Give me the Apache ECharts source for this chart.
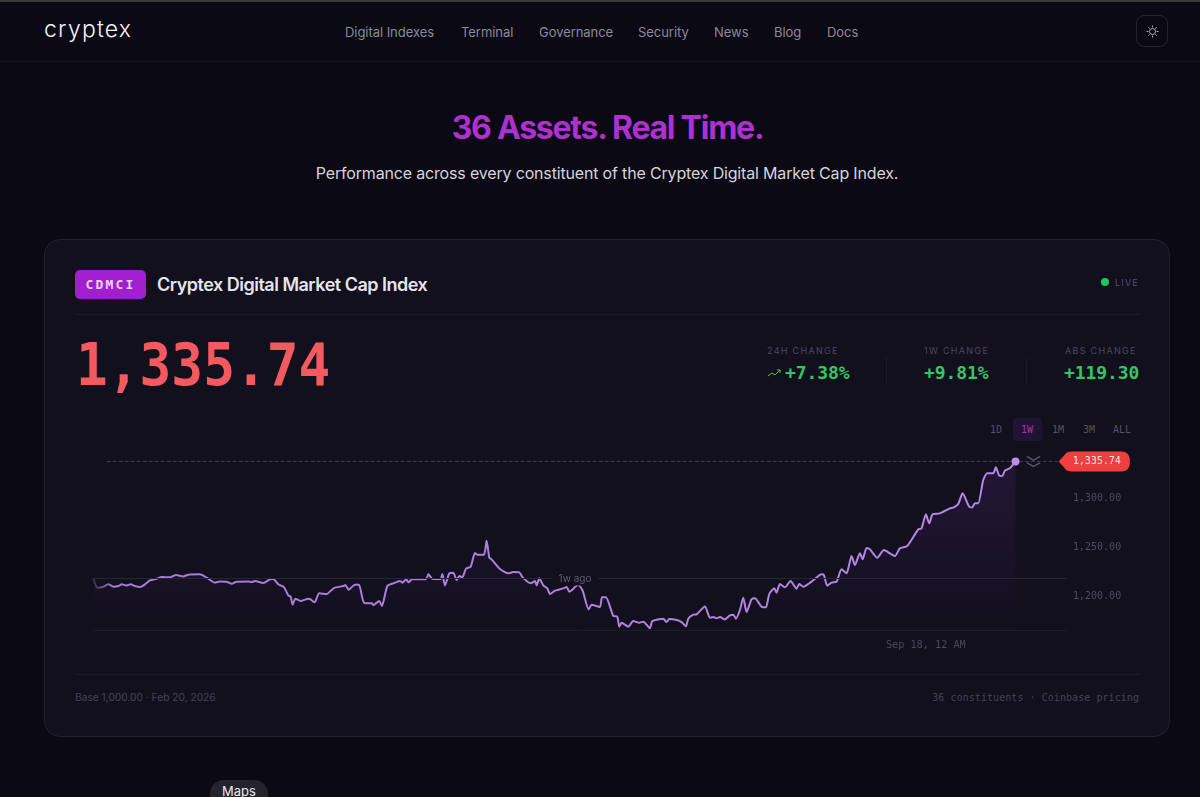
<!DOCTYPE html>
<html>
<head>
<meta charset="utf-8">
<title>Cryptex Digital Market Cap Index</title>
<script src="https://cdn.jsdelivr.net/npm/echarts@6/dist/echarts.min.js"></script>
<style>
  html, body {margin: 0; padding: 0; width: 1200px; height: 797px; overflow: hidden; background: #0a0914;}
  body {position: relative; font-family: Inter, sans-serif;}
  .abs {position: absolute; white-space: nowrap;}
  .mono {font-family: "DejaVu Sans Mono", monospace;}
  .card {left: 44px; top: 239px; width: 1124px; height: 496px; background: #12101d; border: 1px solid #232130; border-radius: 16px;}
  .rule {height: 1px; background: #1c1a29;}
  .nav {top: 24px; font-size: 13px; letter-spacing: -.05px; color: #8b8a9c; line-height: 16px;}
  .stat-t {top: 345px; font-size: 9px; letter-spacing: 1.3px; color: #4b4860; line-height: 11px;}
  .stat-v {top: 362px; font-size: 18px; font-weight: bold; letter-spacing: -.1px; color: #34c565; line-height: 22px;}
  .range {top: 423px; font-size: 10px; color: #54516a; line-height: 13px;}
  #main {position: absolute; left: 0; top: 0; width: 1200px; height: 797px;}
</style>
</head>
<body>
<div class="abs" style="left:0;top:0;width:1200px;height:2px;background:#3a3a3c"></div>
<div class="abs rule" style="left:0;top:61px;width:1200px;background:#141320"></div>
<div class="abs" style="left:44px;top:14px;font:300 23px/30px Inter,sans-serif;letter-spacing:1.2px;color:#f2f2f5">cryptex</div>
<div class="abs nav" style="left:345px">Digital Indexes</div>
<div class="abs nav" style="left:461px">Terminal</div>
<div class="abs nav" style="left:539px">Governance</div>
<div class="abs nav" style="left:638px">Security</div>
<div class="abs nav" style="left:714px">News</div>
<div class="abs nav" style="left:774px">Blog</div>
<div class="abs nav" style="left:827px">Docs</div>
<div class="abs" style="left:1136px;top:15px;width:32px;height:32px;border:1px solid #262433;border-radius:8px;box-sizing:border-box">
  <svg width="30" height="30" viewBox="0 0 30 30" fill="none" stroke="#a9a8b5" stroke-width="1"><circle cx="15.5" cy="15.5" r="3"/><path d="M15.5 9.5v2M15.5 19.5v2M9.5 15.5h2M19.5 15.5h2M11.3 11.3l1.4 1.4M18.3 18.3l1.4 1.4M11.3 19.7l1.4-1.4M18.3 12.7l1.4-1.4"/></svg>
</div>

<div class="abs" style="left:0;width:1215px;top:107px;text-align:center;font:bold 32px/42px Inter,sans-serif;letter-spacing:-1.25px;color:#b02fd0">36 Assets. Real Time.</div>
<div class="abs" style="left:0;width:1214px;top:162px;text-align:center;font:400 16px/22px Inter,sans-serif;letter-spacing:-.17px;color:#d5d4dc">Performance across every constituent of the Cryptex Digital Market Cap Index.</div>

<div class="abs card"></div>
<div class="abs mono" style="left:75px;top:270px;width:71px;height:29px;background:#a21fd0;border-radius:5px;text-align:center;font-size:13px;font-weight:bold;line-height:29px;letter-spacing:2.2px;color:#eed3f7">CDMCI</div>
<div class="abs" style="left:157px;top:272px;font:600 18px/25px Inter,sans-serif;letter-spacing:-.5px;color:#e6e4ef">Cryptex Digital Market Cap Index</div>
<div class="abs" style="left:1101px;top:278px;width:8px;height:8px;border-radius:50%;background:#22c55e"></div>
<div class="abs" style="left:1115px;top:277px;font-size:9px;line-height:11px;letter-spacing:1.2px;color:#55526a">LIVE</div>
<div class="abs rule" style="left:75px;top:314px;width:1065px"></div>

<div class="abs mono" style="left:76px;top:331px;font-size:52.8px;font-weight:bold;line-height:68px;color:#f25a5f;transform:scaleY(1.1);transform-origin:0 50%">1,335.74</div>

<div class="abs stat-t" style="left:767px">24H CHANGE</div>
<div class="abs stat-t" style="left:924px">1W CHANGE</div>
<div class="abs stat-t" style="left:1065px">ABS CHANGE</div>
<svg class="abs" style="left:767px;top:368px" width="15" height="11" viewBox="0 0 15 11" fill="none" stroke="#34c565" stroke-width="1"><path d="M1 8l4-3 3 2 5-5M10 2h3v3"/></svg>
<div class="abs stat-v mono" style="left:785px">+7.38%</div>
<div class="abs stat-v mono" style="left:924px">+9.81%</div>
<div class="abs stat-v mono" style="left:1064px">+119.30</div>
<div class="abs" style="left:886px;top:358px;width:1px;height:26px;background:#1d1b2a"></div>
<div class="abs" style="left:1026px;top:358px;width:1px;height:26px;background:#1d1b2a"></div>

<div class="abs" style="left:1013px;top:418px;width:29px;height:23px;background:#211433;border-radius:4px"></div>
<div class="abs range mono" style="left:990px">1D</div>
<div class="abs range mono" style="left:1021px;color:#a52fc9">1W</div>
<div class="abs range mono" style="left:1052px">1M</div>
<div class="abs range mono" style="left:1083px">3M</div>
<div class="abs range mono" style="left:1113px">ALL</div>

<div class="abs rule" style="left:75px;top:674px;width:1065px"></div>
<div class="abs" style="left:75px;top:691px;font-size:10.2px;line-height:13px;color:#454259">Base 1,000.00 · Feb 20, 2026</div>
<div class="abs mono" style="right:61px;top:691px;font-size:10px;line-height:13px;letter-spacing:.06px;color:#454259">36 constituents · Coinbase pricing</div>

<div class="abs" style="left:210px;top:780px;width:58px;height:34px;border-radius:14px;background:#25242e;text-align:center;font-size:13px;line-height:23px;color:#e8e8ec">Maps</div>

<div id="main"></div>
<script>
  var hours = [
    0.06, 0.79, 1.88, 2.79, 3.70, 4.61, 5.22, 6.13, 6.86, 7.64, 8.55, 9.46, 10.37, 11.59, 12.50, 14.01, 15.11, 16.44, 17.35, 19.47,
    20.69, 22.20, 23.12, 24.33, 25.24, 26.15, 28.27, 28.88, 29.49, 31.00, 32.20, 32.82, 33.73, 34.76, 35.55, 35.98, 36.34, 36.83, 37.80, 39.19,
    39.62, 40.34, 41.19, 42.53, 43.86, 45.56, 45.93, 46.53, 47.69, 48.41, 49.32, 50.72, 51.02, 52.11, 52.60, 53.57, 54.66,
    55.88, 56.37, 56.97, 57.46, 58.06, 60.61, 61.04, 61.83, 63.28, 63.59, 64.07, 64.86, 65.59, 66.19, 66.68, 67.23, 67.89, 68.74, 69.53, 69.96,
    71.17, 71.65, 72.14, 72.56, 74.08, 75.60, 76.51, 77.60, 78.21, 79.66, 80.45, 80.75, 81.24, 81.97, 82.70, 83.18, 84.09, 85.00, 85.61, 86.22,
    86.70, 88.34, 89.13, 90.22, 90.77, 92.28, 92.65, 93.37, 94.71, 95.44, 95.80, 96.23, 97.44, 98.35, 99.44, 100.17, 101.38, 101.81, 103.81, 104.42,
    104.90, 106.24, 107.15, 107.93, 108.36, 109.27, 109.88, 111.39, 112.30, 112.91, 113.52, 114.12, 115.03, 115.94, 116.55, 117.04,
    117.76, 118.37, 118.97, 119.88, 120.49, 121.70, 122.49, 123.10, 124.01, 124.43, 125.04, 125.95, 126.98, 128.07, 128.56, 129.29, 130.80, 132.62, 133.05, 133.66,
    134.44, 135.35, 136.26, 137.17, 138.08, 138.69, 139.60, 140.09, 140.81, 141.42, 142.76, 143.97, 145.97, 146.88, 148.22, 150.22, 150.83, 151.61, 152.22, 152.83,
    154.16, 155.98, 156.59, 157.50, 158.29, 159.50, 160.05, 160.53, 161.14, 162.05, 162.78, 163.87, 164.35, 164.96, 165.51, 165.99, 166.90, 167.93
  ];
  var prices = [
    1216.5, 1207.0, 1208.0, 1210.4, 1208.0, 1208.7, 1210.4, 1209.3, 1210.4, 1208.7, 1207.6, 1210.4, 1214.4, 1216.1, 1217.8, 1217.5, 1219.9, 1218.5, 1220.2, 1220.6,
    1217.2, 1212.1, 1213.4, 1213.1, 1211.0, 1213.1, 1213.4, 1212.7, 1213.8, 1211.7, 1215.5, 1215.8, 1210.4, 1207.6, 1199.1, 1197.8, 1189.6, 1195.7, 1193.4, 1195.7,
    1195.1, 1192.0, 1201.2, 1200.5, 1206.6, 1208.7, 1209.7, 1204.9, 1210.0, 1210.0, 1191.7, 1191.0, 1189.3, 1193.4, 1188.3, 1208.7, 1211.4,
    1213.8, 1212.1, 1215.5, 1212.4, 1215.5, 1215.5, 1220.6, 1215.8, 1215.8, 1220.9, 1209.3, 1221.6, 1222.3, 1214.8, 1218.9, 1217.5, 1226.3, 1228.4, 1242.3, 1240.6,
    1240.6, 1254.9, 1237.6, 1235.9, 1226.0, 1221.6, 1222.9, 1222.6, 1217.5, 1211.4, 1213.8, 1209.3, 1216.5, 1209.3, 1206.3, 1200.5, 1203.9, 1205.3, 1206.3, 1207.6,
    1202.9, 1210.0, 1203.9, 1184.9, 1189.6, 1187.2, 1197.1, 1197.1, 1178.1, 1177.4, 1167.2, 1171.2, 1167.2, 1172.9, 1171.2, 1172.3, 1165.5, 1172.9, 1175.3, 1171.9,
    1175.0, 1174.0, 1171.9, 1167.5, 1175.3, 1179.4, 1179.8, 1187.9, 1176.4, 1177.0, 1175.7, 1177.0, 1174.6, 1178.7, 1179.4, 1175.3,
    1184.2, 1196.8, 1182.2, 1195.1, 1196.1, 1187.6, 1186.9, 1200.5, 1206.3, 1201.9, 1210.7, 1207.3, 1213.8, 1206.0, 1210.7, 1208.0, 1213.1, 1220.6, 1219.9, 1209.0,
    1212.1, 1213.1, 1225.7, 1221.6, 1239.3, 1230.1, 1242.0, 1235.9, 1247.5, 1246.1, 1237.6, 1245.4, 1239.3, 1247.2, 1249.5, 1266.5, 1267.5, 1281.8, 1272.6, 1281.8,
    1282.8, 1287.9, 1288.6, 1292.4, 1303.2, 1289.6, 1288.9, 1293.0, 1293.0, 1316.8, 1323.7, 1323.7, 1329.8, 1321.3, 1320.9, 1326.4, 1328.8, 1335.74
  ];
  var baseline = 1216.44;
  var lastPrice = 1335.74;
  var priceTicks = [1200, 1250, 1300];
  var timeTicks = [151.6];
  var timeLabels = ['Sep 18, 12 AM'];

  var mono = '"DejaVu Sans Mono", monospace';
  var chart = echarts.init(document.getElementById('main'), null, {renderer: 'canvas'});
  window.onresize = chart.resize;
  chart.setOption({
    backgroundColor: 'transparent',
    animation: false,
    grid: {left: 93, right: 133, top: 450, height: 180},
    xAxis: {
      type: 'value', min: 0, max: 177.3,
      axisLine: {show: true, onZero: false, lineStyle: {color: '#1d1b2a'}},
      axisTick: {show: false},
      splitLine: {show: false},
      axisLabel: {
        customValues: timeTicks, margin: 10,
        color: '#4a4760', fontFamily: mono, fontSize: 10.2,
        formatter: function (v) { return timeLabels[timeTicks.indexOf(v)]; }
      }
    },
    yAxis: {
      type: 'value', position: 'right', min: 1163.8, max: 1347.45, scale: true,
      axisLine: {show: false},
      axisTick: {show: false},
      splitLine: {show: false},
      axisLabel: {
        customValues: priceTicks, margin: 6,
        formatter: function (v) { return '{t|' + v.toLocaleString('en-US', {minimumFractionDigits: 2}) + '}'; },
        rich: {t: {color: '#4d4a62', fontFamily: mono, fontSize: 10, padding: [3, 0, 0, 0]}}
      }
    },
    series: [{
      type: 'line',
      data: hours.map(function (h, i) { return [h, prices[i]]; }),
      smooth: 0.2,
      showSymbol: false,
      clip: false,
      lineStyle: {
        width: 2,
        color: new echarts.graphic.LinearGradient(0, 0, 1, 0, [
          {offset: 0, color: '#2d2a3a'}, {offset: 0.025, color: '#a77ad8'}, {offset: 1, color: '#b688e6'}
        ])
      },
      areaStyle: {
        origin: 'start',
        color: new echarts.graphic.LinearGradient(0, 0, 0, 1, [
          {offset: 0, color: 'rgba(150,60,210,0.20)'}, {offset: 1, color: 'rgba(150,60,210,0)'}
        ])
      },
      markLine: {
        silent: true, symbol: 'none', animation: false,
        data: [
          [
            {coord: [0, baseline], lineStyle: {color: '#26243a', type: 'solid', width: 1},
              label: {show: true, position: 'middle', formatter: '1w ago', color: '#5f5c72', fontSize: 10, fontFamily: 'Inter, sans-serif',
                offset: [-5, 12], backgroundColor: '#12101d', padding: [1, 7]}},
            {coord: [177.3, baseline]}
          ],
          [
            {coord: [2.5, lastPrice], lineStyle: {color: '#3c3950', type: 'dashed', width: 1},
              label: {show: true, position: 'end', distance: 6, formatter: '1,335.74', color: '#fde8e8', fontSize: 10, fontFamily: mono,
                backgroundColor: '#ee4040', borderRadius: 8, padding: [5, 9, 5, 9]}},
            {coord: [175.6, lastPrice]}
          ]
        ]
      },
      markPoint: {
        silent: true, animation: false,
        data: [
          {coord: [hours[hours.length - 1], lastPrice], symbol: 'circle', symbolSize: 8, itemStyle: {color: '#b98ce8'}, label: {show: false}},
          {coord: [176.6, lastPrice], symbol: 'triangle', symbolSize: [20, 9], symbolRotate: 90, itemStyle: {color: '#ee4040'}, label: {show: false}},
          {coord: [171.2, lastPrice], symbol: 'path://M0 0L6 3L12 0M0 5L6 8L12 5', symbolSize: [13, 10], itemStyle: {color: 'transparent', borderColor: '#5a586a', borderWidth: 1.5}, label: {show: false}}
        ]
      }
    }]
  });
</script>
</body>
</html>
